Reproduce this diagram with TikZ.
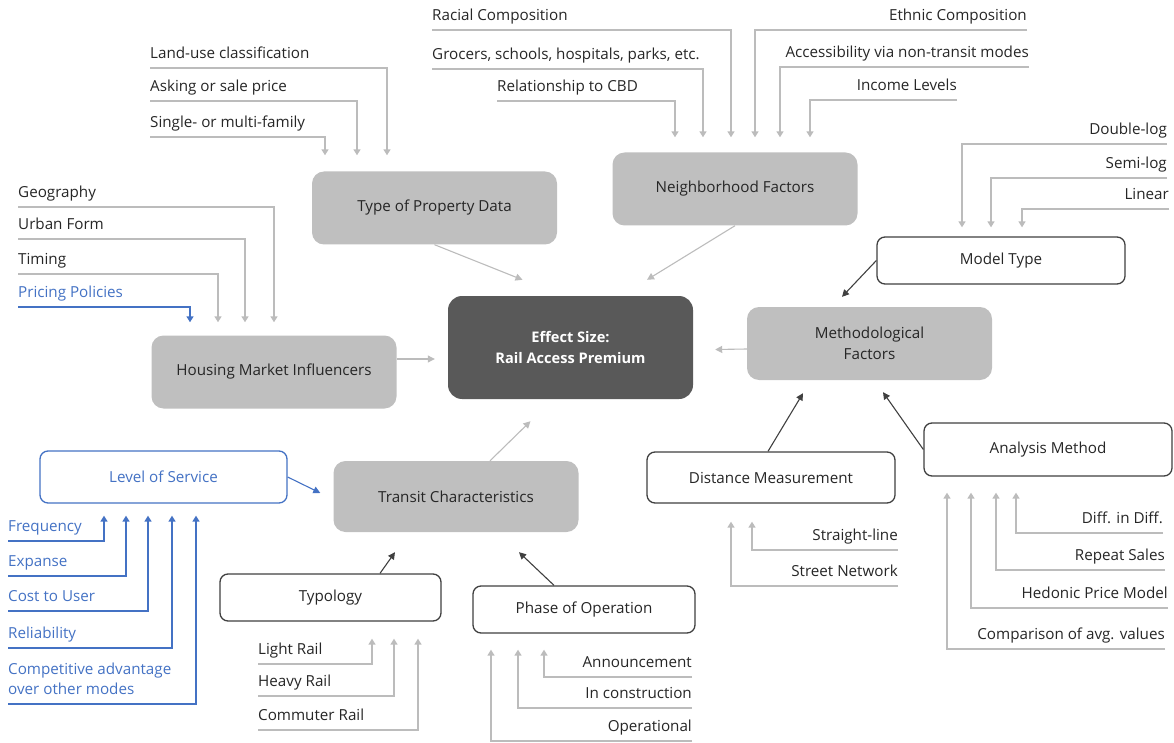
\documentclass[tikz,border=0pt]{standalone}
\usepackage{fontspec}
\setmainfont{Open Sans}
\usetikzlibrary{arrows.meta,calc}

\definecolor{boxgray}{HTML}{BFBFBF}
\definecolor{feedgray}{HTML}{BCBCBC}
\definecolor{coregray}{HTML}{595959}
\definecolor{losblue}{HTML}{4472C4}
\definecolor{txtgray}{HTML}{262626}
\definecolor{linkgray}{HTML}{404040}

\tikzset{
  factor/.style={fill=boxgray, rounded corners=12pt, minimum width=245pt, minimum height=73pt, text=txtgray, align=center, font=\fontsize{15.2}{21.5}\selectfont},
  core/.style={fill=coregray, rounded corners=14pt, minimum width=245pt, minimum height=103pt, text=white, align=center, font=\fontsize{14.6}{21.5}\selectfont\bfseries},
  subbox/.style={draw=linkgray, line width=1.3pt, fill=white, rounded corners=8pt, minimum height=48pt, text=txtgray, align=center},
  losbox/.style={subbox, draw=losblue, text=losblue},
  lbl/.style={anchor=south west, inner xsep=0pt, inner ysep=5pt, text depth=4pt, text=txtgray, align=left},
  rlbl/.style={lbl, anchor=south east, align=right},
  blbl/.style={lbl, text=losblue},
  feed/.style={draw=feedgray, line width=1.7pt, -{Triangle[width=7pt,length=6pt]}},
  bfeed/.style={feed, draw=losblue},
  tocore/.style={draw=feedgray, line width=1.1pt, -{Triangle[width=7pt,length=7pt]}},
  link/.style={draw=linkgray, line width=1.1pt, -{Triangle[width=7pt,length=7pt]}},
  blink/.style={link, draw=losblue}
}

\begin{document}
\begin{tikzpicture}[x=1pt, y=-1pt, font=\fontsize{15.2}{20}\selectfont]
  \useasboundingbox (0,0) rectangle (1174,743);

  % Effect size in the middle
  \node[core] (core) at (570.5,347.5) {Effect Size:\\Rail Access Premium};

  % Main factors
  \node[factor] (tpd) at (434.5,208) {Type of Property Data};
  \node[factor] (nbh) at (735,189) {Neighborhood Factors};
  \node[factor] (hmi) at (274,372) {Housing Market Influencers};
  \node[factor] (mf) at (869.5,343.5) {Methodological\\Factors};
  \node[factor, minimum height=71pt] (tc) at (456,496.5) {Transit Characteristics};

  % Sub-factor boxes
  \node[subbox, minimum width=248pt, minimum height=47pt] (mt) at (1001,260.5) {Model Type};
  \node[subbox, minimum width=248pt, minimum height=53pt] (am) at (1048,449.5) {Analysis Method};
  \node[subbox, minimum width=248pt, minimum height=51pt] (dm) at (771,477.5) {Distance Measurement};
  \node[losbox, minimum width=247pt, minimum height=52pt] (los) at (163.5,477) {Level of Service};
  \node[subbox, minimum width=221pt, minimum height=47pt] (typ) at (330.5,597.5) {Typology};
  \node[subbox, minimum width=222pt, minimum height=47pt] (poo) at (584,609.5) {Phase of Operation};

  % Factors into the effect size
  \draw[tocore] (tpd.south) -- ($(core.north)+(-48,-16)$);
  \draw[tocore] (nbh.south) -- ($(core.north)+(76.5,-16)$);
  \draw[tocore] ($(hmi.east)+(0,-13)$) -- ($(core.west)+(-13,11.5)$);
  \draw[tocore] ($(mf.west)+(0,5.5)$) -- ($(core.east)+(22,2)$);
  \draw[tocore] ($(tc.north)+(34,0)$) -- ($(core.south)+(-40,22)$);

  % Sub-factors into the factors
  \draw[link] (mt.west) -- ($(mf.north)+(-27.5,-10)$);
  \draw[link] ($(dm.north)+(-3,0)$) -- ($(mf.south)+(-66.5,13)$);
  \draw[link] (am.west) -- ($(mf.south)+(13.5,12)$);
  \draw[link] ($(typ.north)+(49.5,0)$) -- ($(tc.south)+(-61,20)$);
  \draw[link] ($(poo.north)+(-30,0)$) -- ($(tc.south)+(63,20)$);
  \draw[blink] (los.east) -- ($(tc.west)+(-13,-3.5)$);

  % Type of property data
  \node[lbl] (lu) at (150,68) {Land-use classification};
  \node[lbl] (asp) at (150,101) {Asking or sale price};
  \node[lbl] (smf) at (150,137) {Single- or multi-family};
  \draw[feed] (lu.south west) -| ($(tpd.north)+(-47.5,-16)$);
  \draw[feed] (asp.south west) -| ($(tpd.north)+(-77.5,-16)$);
  \draw[feed] (smf.south west) -| ($(tpd.north)+(-109.5,-16)$);

  % Housing market influencers
  \node[lbl] (geo) at (18,207) {Geography};
  \node[lbl] (uf) at (18,239) {Urban Form};
  \node[lbl] (tim) at (18,274) {Timing};
  \node[blbl] (pp) at (18,307) {Pricing Policies};
  \draw[feed] (geo.south west) -| ($(hmi.north)+(0,-13)$);
  \draw[feed] (uf.south west) -| ($(hmi.north)+(-29,-13)$);
  \draw[feed] (tim.south west) -| ($(hmi.north)+(-56,-13)$);
  \draw[bfeed] (pp.south west) -| ($(hmi.north)+(-84,-13)$);

  % Neighborhood factors
  \node[lbl] (rc) at (432,30) {Racial Composition};
  \node[lbl] (gsh) at (432,69) {Grocers, schools, hospitals, parks, etc.};
  \node[lbl] (cbd) at (497,101) {Relationship to CBD};
  \node[rlbl] (ec) at (1027,30) {Ethnic Composition};
  \node[rlbl] (acc) at (1029,67) {Accessibility via non-transit modes};
  \node[rlbl] (inc) at (957,100) {Income Levels};
  \draw[feed] (rc.south west) -| ($(nbh.north)+(-4,-15)$);
  \draw[feed] (gsh.south west) -| ($(nbh.north)+(-32,-15)$);
  \draw[feed] (cbd.south west) -| ($(nbh.north)+(-60,-15)$);
  \draw[feed] (ec.south east) -| ($(nbh.north)+(20,-15)$);
  \draw[feed] (acc.south east) -| ($(nbh.north)+(45,-15)$);
  \draw[feed] (inc.south east) -| ($(nbh.north)+(75,-15)$);

  % Model type
  \node[rlbl] (dlog) at (1167,144) {Double-log};
  \node[rlbl] (slog) at (1167,178) {Semi-log};
  \node[rlbl] (lin) at (1169,209) {Linear};
  \draw[feed] (dlog.south east) -| ($(mt.north)+(-39,-9)$);
  \draw[feed] (slog.south east) -| ($(mt.north)+(-10,-9)$);
  \draw[feed] (lin.south east) -| ($(mt.north)+(21,-9)$);

  % Level of service
  \node[blbl] (fre) at (8,541) {Frequency};
  \node[blbl] (exs) at (8,576) {Expanse};
  \node[blbl] (ctu) at (8,611) {Cost to User};
  \node[blbl] (rel) at (8,648) {Reliability};
  \node[blbl] (cad) at (8,704) {Competitive advantage\\over other modes};
  \draw[bfeed] (fre.south west) -| ($(los.south)+(-59.5,12)$);
  \draw[bfeed] (exs.south west) -| ($(los.south)+(-37.5,12)$);
  \draw[bfeed] (ctu.south west) -| ($(los.south)+(-15.5,12)$);
  \draw[bfeed] (rel.south west) -| ($(los.south)+(8.5,12)$);
  \draw[bfeed] (cad.south west) -| ($(los.south)+(32.5,12)$);

  % Typology
  \node[lbl] (lr) at (258,664) {Light Rail};
  \node[lbl] (hr) at (258,696) {Heavy Rail};
  \node[lbl] (cr) at (258,730) {Commuter Rail};
  \draw[feed] (lr.south west) -| ($(typ.south)+(41.5,17)$);
  \draw[feed] (hr.south west) -| ($(typ.south)+(63.5,17)$);
  \draw[feed] (cr.south west) -| ($(typ.south)+(87.5,17)$);

  % Phase of operation
  \node[rlbl] (ann) at (692,677) {Announcement};
  \node[rlbl] (incon) at (692,708) {In construction};
  \node[rlbl] (opr) at (692,741) {Operational};
  \draw[feed] (ann.south east) -| ($(poo.south)+(-40,16)$);
  \draw[feed] (incon.south east) -| ($(poo.south)+(-66,16)$);
  \draw[feed] (opr.south east) -| ($(poo.south)+(-93,16)$);

  % Distance measurement
  \node[rlbl] (strl) at (898,550) {Straight-line};
  \node[rlbl] (strn) at (898,586) {Street Network};
  \draw[feed] (strl.south east) -| ($(dm.south)+(-19,18)$);
  \draw[feed] (strn.south east) -| ($(dm.south)+(-40,18)$);

  % Analysis method
  \node[rlbl] (did) at (1163,533) {Diff. in Diff.};
  \node[rlbl] (rsal) at (1165,570) {Repeat Sales};
  \node[rlbl] (hpm) at (1168,608) {Hedonic Price Model};
  \node[rlbl] (cav) at (1165,649) {Comparison of avg. values};
  \draw[feed] (did.south east) -| ($(am.south)+(-32,16)$);
  \draw[feed] (rsal.south east) -| ($(am.south)+(-52,16)$);
  \draw[feed] (hpm.south east) -| ($(am.south)+(-77,16)$);
  \draw[feed] (cav.south east) -| ($(am.south)+(-101,16)$);
\end{tikzpicture}
\end{document}
